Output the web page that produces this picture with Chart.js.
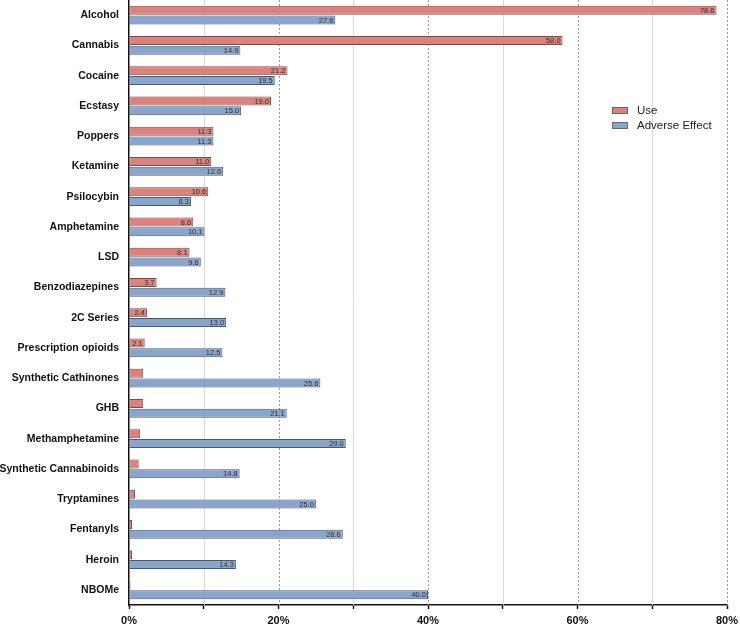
<!DOCTYPE html>
<html>
<head>
<meta charset="utf-8">
<script src="https://cdn.jsdelivr.net/npm/chart.js@4/dist/chart.umd.min.js"></script>
<style>
  html, body { margin: 0; padding: 0; background: #fff; }
  #wrap { width: 740px; height: 629px; }
</style>
</head>
<body>
<div id="wrap"><canvas id="drugChart" width="740" height="629"></canvas></div>
<script>
const substances = [
  "Alcohol", "Cannabis", "Cocaine", "Ecstasy", "Poppers", "Ketamine",
  "Psilocybin", "Amphetamine", "LSD", "Benzodiazepines", "2C Series",
  "Prescription opioids", "Synthetic Cathinones", "GHB", "Methamphetamine",
  "Synthetic Cannabinoids", "Tryptamines", "Fentanyls", "Heroin", "NBOMe"
];
const useValues = [
  78.6, 58.0, 21.2, 19.0, 11.3, 11.0, 10.6, 8.6, 8.1, 3.7,
  2.4, 2.1, 1.9, 1.9, 1.5, 1.3, 0.8, 0.4, 0.4, 0.2
];
const adverseValues = [
  27.6, 14.9, 19.5, 15.0, 11.3, 12.6, 8.3, 10.1, 9.6, 12.9,
  13.0, 12.5, 25.6, 21.1, 29.0, 14.8, 25.0, 28.6, 14.3, 40.0
];
const xTicks = [0, 10, 20, 30, 40, 50, 60, 70, 80];

const FONT = "'Liberation Sans', Arial, Helvetica, sans-serif";

// gridlines: light solid at 10/30/50/70, dashed at 20/40/60/80
const gridPlugin = {
  id: "grid",
  beforeDatasetsDraw(chart) {
    const { ctx, chartArea, scales } = chart;
    ctx.save();
    xTicks.forEach((v) => {
      if (v === 0) return;
      const x = Math.round(scales.x.getPixelForValue(v)) + 0.5;
      ctx.beginPath();
      if (v % 20 === 0) {
        ctx.strokeStyle = "#9a9a9a";
        ctx.setLineDash([2, 2]);
      } else {
        ctx.strokeStyle = "#d9d9d9";
        ctx.setLineDash([]);
      }
      ctx.lineWidth = 1;
      ctx.moveTo(x, chartArea.top);
      ctx.lineTo(x, chartArea.bottom);
      ctx.stroke();
    });
    ctx.restore();
  },
};

// value labels inside the bar ends
const valueLabels = {
  id: "valueLabels",
  afterDatasetsDraw(chart) {
    const { ctx } = chart;
    ctx.save();
    ctx.font = "7.5px " + FONT;
    ctx.fillStyle = "#333";
    ctx.textAlign = "right";
    ctx.textBaseline = "middle";
    chart.data.datasets.forEach((ds, i) => {
      chart.getDatasetMeta(i).data.forEach((bar, j) => {
        const v = ds.data[j];
        if (v < 2) return;
        ctx.fillText(v.toFixed(1), bar.x - 2, bar.y + 0.5);
      });
    });
    ctx.restore();
  },
};

// legend placed inside the plot, right side
const sideLegend = {
  id: "sideLegend",
  afterDraw(chart) {
    const { ctx } = chart;
    const left = 612;
    let top = 107;
    ctx.save();
    ctx.font = "11.5px " + FONT;
    ctx.textBaseline = "middle";
    chart.data.datasets.forEach((ds) => {
      ctx.fillStyle = ds.backgroundColor;
      ctx.fillRect(left, top, 16, 7);
      ctx.strokeStyle = "#666";
      ctx.lineWidth = 1;
      ctx.strokeRect(left + 0.5, top + 0.5, 15, 6);
      ctx.fillStyle = "#222";
      ctx.fillText(ds.label, left + 25, top + 3.5);
      top += 15;
    });
    ctx.restore();
  },
};

new Chart(document.getElementById("drugChart"), {
  type: "bar",
  data: {
    labels: substances,
    datasets: [
      {
        label: "Use",
        data: useValues,
        backgroundColor: "#e0807b",
        borderColor: "#6b5250",
        borderWidth: 1,
        borderSkipped: false,
        categoryPercentage: 0.64,
        barPercentage: 0.92,
      },
      {
        label: "Adverse Effect",
        data: adverseValues,
        backgroundColor: "#88a5cd",
        borderColor: "#4f5866",
        borderWidth: 1,
        borderSkipped: false,
        categoryPercentage: 0.64,
        barPercentage: 0.92,
      },
    ],
  },
  options: {
    indexAxis: "y",
    responsive: false,
    animation: false,
    layout: { padding: { top: 0, right: 13, left: 0, bottom: 0 } },
    plugins: {
      legend: { display: false },
      tooltip: { enabled: false },
    },
    scales: {
      x: {
        min: 0,
        max: 80,
        afterBuildTicks: (scale) => {
          scale.ticks = xTicks.map((v) => ({ value: v }));
        },
        afterFit: (scale) => {
          scale.height = 24;
          scale.paddingLeft = 0;
          scale.paddingRight = 0;
        },
        ticks: {
          callback: (value) => (value % 20 === 0 ? value + "%" : ""),
          font: { family: FONT, size: 11, weight: "bold" },
          color: "#111",
          padding: 5,
          maxRotation: 0,
          autoSkip: false,
        },
        grid: {
          drawOnChartArea: false,
          drawTicks: true,
          tickLength: 4,
          tickColor: "#111",
          tickWidth: 1.5,
        },
        border: { color: "#111", width: 1.5 },
      },
      y: {
        afterFit: (scale) => {
          scale.width = 129;
          scale.paddingTop = 0;
          scale.paddingBottom = 0;
        },
        ticks: {
          font: { family: FONT, size: 10.5, weight: "bold" },
          color: "#111",
          padding: 10,
          autoSkip: false,
        },
        grid: { display: false, drawTicks: false },
        border: { color: "#111", width: 1.5 },
      },
    },
  },
  plugins: [gridPlugin, valueLabels, sideLegend],
});
</script>
</body>
</html>
